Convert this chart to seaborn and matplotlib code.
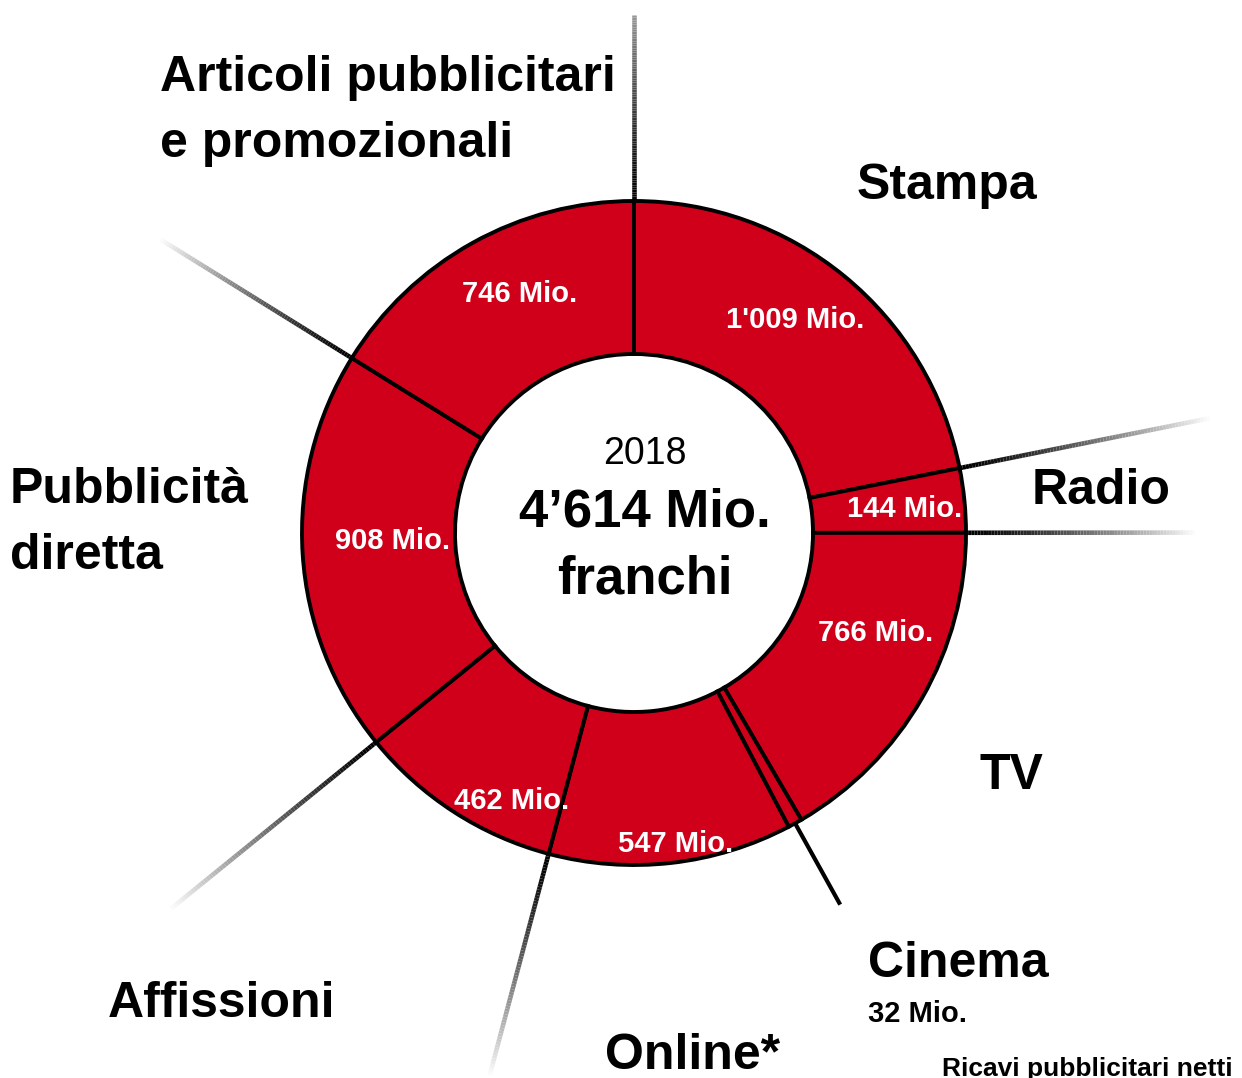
import numpy as np
import matplotlib
matplotlib.use("Agg")
import matplotlib.pyplot as plt
from matplotlib.collections import LineCollection
import seaborn as sns

# Ricavi pubblicitari netti 2018 (Mio. franchi), in senso orario dall'alto
categorie = ['Stampa', 'Radio', 'TV', 'Cinema', 'Online*', 'Affissioni',
             'Pubblicità\ndiretta', 'Articoli pubblicitari\ne promozionali']
valori = [1009, 144, 766, 32, 547, 462, 908, 746]
etichette_valori = ["1'009 Mio.", '144 Mio.', '766 Mio.', '32 Mio.', '547 Mio.',
                    '462 Mio.', '908 Mio.', '746 Mio.']
anno = '2018'
totale_testo = "4’614 Mio.\nfranchi"

sns.set_theme(style='white')
plt.rcParams['font.family'] = ['Liberation Sans', 'DejaVu Sans']

W, H = 1242, 1078
rosso = '#d0001b'
cx, cy = 634, H - 533
R_OUT, R_IN = 332, 179
DY = 4  # correzione verticale del testo

fig = plt.figure(figsize=(W / 100, H / 100), dpi=100)
fig.set_facecolor('white')
ax = fig.add_axes([0, 0, 1, 1])

wedges, _ = ax.pie(valori, radius=R_OUT, center=(cx, cy), startangle=90,
                   counterclock=False, colors=[rosso] * len(valori),
                   wedgeprops=dict(width=R_OUT - R_IN, edgecolor='black', linewidth=2.8))
ax.set_xlim(0, W)
ax.set_ylim(0, H)
ax.set_aspect('equal')
ax.axis('off')

# angoli dei confini (gradi, matematici)
cum = np.concatenate([[0], np.cumsum(valori)])
angoli = 90 - 360 * cum[:-1] / cum[-1]


def linea_sfumata(ang, r0, r1, grigio_fine=1.0, lw=3.3, n=80):
    t = np.linspace(0, 1, n + 1)
    r = r0 + (r1 - r0) * t
    x = cx + r * np.cos(np.radians(ang))
    y = cy + r * np.sin(np.radians(ang))
    pts = np.column_stack([x, y])
    segs = np.stack([pts[:-1], pts[1:]], axis=1)
    g = grigio_fine * t[:-1] ** 1.3
    cols = [(v, v, v) for v in g]
    ax.add_collection(LineCollection(segs, colors=cols, linewidths=lw,
                                     capstyle='butt', zorder=1))


# prolungamenti dei confini (indice confine -> raggio finale, grigio finale)
prolunghe = {0: (518, 0.6), 1: (587, 1.0), 2: (561, 1.0), 5: (561, 1.0),
             6: (596, 1.0), 7: (557, 1.0)}
for i, (r_fine, g_fine) in prolunghe.items():
    linea_sfumata(angoli[i], R_OUT, r_fine, g_fine)

# linea del cinema (piena)
ang_cinema = (angoli[3] + angoli[4]) / 2
xs = cx + np.array([R_OUT, 425]) * np.cos(np.radians(ang_cinema))
ys = cy + np.array([R_OUT, 425]) * np.sin(np.radians(ang_cinema))
ax.plot(xs, ys, color='black', lw=3, solid_capstyle='butt', zorder=1)

# etichette delle categorie (posizioni in pixel)
pos_cat = [(857, 182), (1032, 487), (980, 772), (868, 960), (605, 1052),
           (108, 1000), (10, 519), (160, 107)]
for nome, (px, py) in zip(categorie, pos_cat):
    ax.text(px, H - py - DY, nome, ha='left', va='center', fontsize=36,
            fontweight='bold', color='black', linespacing=1.53, zorder=5)

# valori nell'anello
pos_val = [(795, 318), (905, 507), (876, 631), None, (676, 842), (512, 799),
           (393, 539), (520, 292)]
for testo, p in zip(etichette_valori, pos_val):
    if p is None:
        continue
    ax.text(p[0], H - p[1] - 2, testo, ha='center', va='center', fontsize=21,
            fontweight='bold', color='white', zorder=5)

# valore del cinema fuori dall'anello
ax.text(868, H - 1012 - 2, etichette_valori[3], ha='left', va='center', fontsize=21,
        fontweight='bold', color='black', zorder=5)

# testo centrale
ax.text(645, H - 451 - 3, anno, ha='center', va='center', fontsize=27, color='black')
ax.text(645, H - 541 - 5, totale_testo, ha='center', va='center', fontsize=38,
        fontweight='bold', color='black', linespacing=1.45)

ax.text(942, H - 1066 - 3, 'Ricavi pubblicitari netti', ha='left', va='center',
        fontsize=19, fontweight='bold', color='black')

fig.savefig('out.png', dpi=100, facecolor='white')
